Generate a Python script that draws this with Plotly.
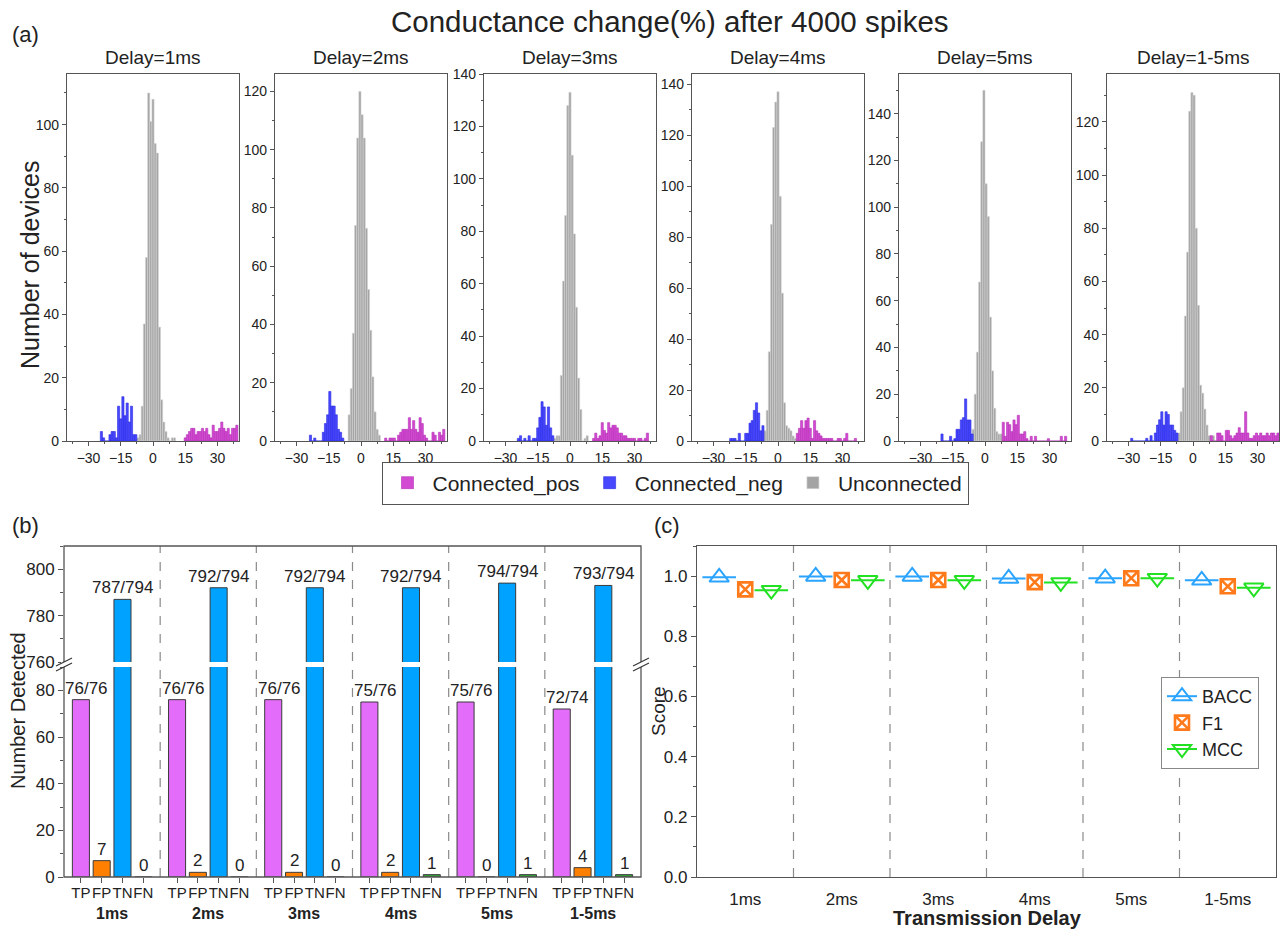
import plotly.graph_objects as go

W, H = 1282, 933
FONT = "Arial, Liberation Sans, Helvetica, sans-serif"
INK = "#222222"
AXIS = "#555555"

PANEL_TITLES = ["Delay=1ms", "Delay=2ms", "Delay=3ms", "Delay=4ms", "Delay=5ms", "Delay=1-5ms"]
GROUPS = ["1ms", "2ms", "3ms", "4ms", "5ms", "1-5ms"]

# (a) device counts per 1 %-wide bin of conductance change; *_START = centre of first bin
POS_1_START = 15
POS_1 = [1, 2, 3, 4, 4, 2, 3, 3, 4, 3, 4, 2, 1, 5, 3, 3, 4, 6, 4, 3, 4, 2, 4, 4, 5]
NEG_1_START = -24
NEG_1 = [3, 1, 0, 0, 2, 3, 3, 1, 11, 7, 14, 8, 12, 6, 11, 2, 2]
UNC_1_START = -7
UNC_1 = [1, 2, 11, 37, 58, 110, 101, 108, 94, 91, 36, 13, 6, 3, 1, 0, 1, 1]

POS_2_START = 11.5
POS_2 = [1, 0, 1, 1, 1, 0, 2, 3, 4, 4, 4, 8, 4, 7, 4, 3, 8, 6, 2, 1, 0, 0, 3, 2, 0, 3, 2, 4]
NEG_2_START = -23.5
NEG_2 = [2, 0, 1, 0, 0, 0, 3, 6, 9, 17, 12, 12, 9, 4, 3, 1]
UNC_2_START = -5.5
UNC_2 = [9, 18, 37, 74, 104, 120, 112, 104, 73, 52, 38, 22, 10, 4, 2]

POS_3_START = 11
POS_3 = [1, 3, 1, 2, 7, 4, 3, 7, 5, 6, 6, 5, 3, 3, 2, 2, 1, 1, 1, 1, 0, 1, 1, 0, 1, 3]
NEG_3_START = -24
NEG_3 = [1, 2, 0, 1, 0, 2, 0, 1, 1, 5, 9, 15, 13, 6, 13, 5, 2]
UNC_3_START = -7
UNC_3 = [1, 2, 2, 25, 61, 86, 128, 133, 109, 79, 51, 24, 12, 0, 1, 2]

POS_4_START = 9
POS_4 = [3, 5, 8, 5, 8, 9, 5, 1, 8, 4, 3, 2, 1, 1, 1, 1, 1, 0, 0, 1, 1, 0, 1, 3, 0, 0, 0, 1]
NEG_4_START = -22
NEG_4 = [1, 1, 1, 0, 3, 0, 0, 3, 3, 7, 8, 12, 15, 11, 4, 6]
UNC_4_START = -6
UNC_4 = [4, 12, 35, 85, 123, 133, 137, 96, 58, 15, 6, 5, 4, 2, 1]

POS_5_START = 8.5
POS_5 = [8, 2, 8, 7, 4, 9, 7, 11, 3, 3, 4, 1, 0, 2, 0, 2, 0, 0, 0, 0, 0, 1, 0, 0, 0, 0, 0, 2, 0, 2]
NEG_5_START = -20
NEG_5 = [3, 0, 0, 0, 2, 0, 1, 5, 5, 9, 10, 18, 9, 9, 3]
UNC_5_START = -5.5
UNC_5 = [5, 20, 38, 68, 128, 150, 110, 96, 53, 30, 14, 4, 3, 3]

POS_6_START = 8.5
POS_6 = [2, 0, 0, 3, 3, 2, 0, 4, 4, 2, 1, 2, 3, 5, 3, 3, 11, 3, 1, 1, 2, 3, 2, 3, 2, 2, 3, 2, 3, 3, 2, 3]
NEG_6_START = -28.5
NEG_6 = [1, 0, 0, 0, 0, 0, 0, 1, 0, 2, 0, 3, 6, 8, 11, 6, 11, 10, 6, 6, 4, 3]
UNC_6_START = -6.5
UNC_6 = [3, 11, 20, 47, 71, 124, 131, 130, 80, 51, 21, 18, 12, 6, 2, 0, 2]

# (b) detection counts per delay setting
TP = [76, 76, 76, 75, 75, 72]
TP_TOTAL = [76, 76, 76, 76, 76, 74]
FP = [7, 2, 2, 2, 0, 4]
TN = [787, 792, 792, 792, 794, 793]
TN_TOTAL = [794, 794, 794, 794, 794, 794]
FN = [0, 0, 0, 1, 1, 1]
BAR_NAMES = ["TP", "FP", "TN", "FN"]

# (c) classification scores per delay setting
BACC = [0.996, 0.999, 0.999, 0.992, 0.993, 0.986]
F1 = [0.956, 0.987, 0.987, 0.980, 0.993, 0.966]
MCC = [0.953, 0.986, 0.986, 0.979, 0.993, 0.961]


def xdom(a, b):
    return [a / W, b / W]


def ydom(top, bot):
    return [1 - bot / H, 1 - top / H]


def centres(start, counts):
    return [start + i for i in range(len(counts))]


def label(x, y, text, size, **kw):
    a = dict(x=x / W, y=1 - y / H, xref="paper", yref="paper", text=text, showarrow=False,
             xanchor="center", yanchor="middle", font=dict(size=size, color=INK, family=FONT))
    a.update(kw)
    return a


fig = go.Figure()

# ---------------- (a) histograms ----------------
HIST = [
    (POS_1_START, POS_1, NEG_1_START, NEG_1, UNC_1_START, UNC_1),
    (POS_2_START, POS_2, NEG_2_START, NEG_2, UNC_2_START, UNC_2),
    (POS_3_START, POS_3, NEG_3_START, NEG_3, UNC_3_START, UNC_3),
    (POS_4_START, POS_4, NEG_4_START, NEG_4, UNC_4_START, UNC_4),
    (POS_5_START, POS_5, NEG_5_START, NEG_5, UNC_5_START, UNC_5),
    (POS_6_START, POS_6, NEG_6_START, NEG_6, UNC_6_START, UNC_6),
]
HIST_LEFT = [67, 275, 484, 692, 899, 1107]
HIST_W = 172
HIST_TOP, HIST_BOT = 74, 441
HIST_YMAX = [116, 126, 140, 144, 157, 138]

STYLE = {
    "Unconnected": ("#A4A4A4", "#D4D4D4", 3),
    "Connected_neg": ("#4848FF", "#2A2AE0", 2),
    "Connected_pos": ("#D24AD2", "#B52FB5", 1),
}

for i, (ps, pv, ns, nv, us, uv) in enumerate(HIST):
    sx = "" if i == 0 else str(i + 1)
    for name, start, vals in (("Unconnected", us, uv), ("Connected_neg", ns, nv), ("Connected_pos", ps, pv)):
        fill, edge, rank = STYLE[name]
        fig.add_trace(go.Bar(
            x=centres(start, vals), y=vals, width=1.0, name=name,
            marker=dict(color=fill, line=dict(color=edge, width=0.6)),
            xaxis="x" + sx, yaxis="y" + sx,
            showlegend=(i == 0), legend="legend", legendrank=rank,
            hoverinfo="skip",
        ))
    common = dict(showline=True, mirror=True, linecolor=AXIS, linewidth=1.3, automargin=False,
                  ticks="outside", ticklen=4, tickcolor=AXIS,
                  tickfont=dict(size=14, color=INK, family=FONT), showgrid=False, zeroline=False)
    fig.update_layout({
        "xaxis" + sx: dict(common, domain=xdom(HIST_LEFT[i], HIST_LEFT[i] + HIST_W), anchor="y" + sx,
                           range=[-40, 40], tickvals=[-30, -15, 0, 15, 30],
                           minor=dict(tickvals=[-37.5, -22.5, -7.5, 7.5, 22.5, 37.5], ticks="outside", ticklen=2, tickcolor=AXIS)),
        "yaxis" + sx: dict(common, domain=ydom(HIST_TOP, HIST_BOT), anchor="x" + sx,
                           range=[0, HIST_YMAX[i]], dtick=20, tick0=0,
                           minor=dict(dtick=10, ticks="outside", ticklen=2, tickcolor=AXIS)),
    })

# ---------------- (b) broken-axis bar chart ----------------
G = 4.625
B_LEFT, B_RIGHT, B_TOP, B_BOT = 64, 641, 546, 877
B_SPLIT_HI, B_SPLIT_LO = 662, 667
BAR_STYLE = [("#E46CFA", TP), ("#FF8000", FP), ("#00A2FF", TN), ("#33AA33", FN)]


def bar_x(g, k):
    return g * G + G / 2 + (k - 1.5)


for k, (clr, vals) in enumerate(BAR_STYLE):
    xs = [bar_x(g, k) for g in range(len(vals))]
    fig.add_trace(go.Bar(x=xs, y=vals, width=0.82, xaxis="x7", yaxis="y7",
                         marker=dict(color=clr, line=dict(color="#3A3A3A", width=1)),
                         showlegend=False, hoverinfo="skip"))
    if BAR_NAMES[k] == "TN":
        fig.add_trace(go.Bar(x=xs, y=vals, width=0.82, xaxis="x7", yaxis="y8",
                             marker=dict(color=clr, line=dict(color="#3A3A3A", width=1)),
                             showlegend=False, hoverinfo="skip"))

tickvals_b, ticktext_b = [], []
for g in range(len(GROUPS)):
    for k, nm in enumerate(BAR_NAMES):
        tickvals_b.append(bar_x(g, k))
        ticktext_b.append(nm)

axb = dict(showgrid=False, zeroline=False, showline=False, automargin=False,
           ticks="outside", ticklen=5, tickcolor=AXIS,
           tickfont=dict(size=17, color=INK, family=FONT))
fig.update_layout(
    xaxis7=dict(axb, domain=xdom(B_LEFT, B_RIGHT), anchor="y7", range=[0, 6 * G], tickangle=0,
                ticklabelstandoff=-3,
                tickvals=tickvals_b, ticktext=ticktext_b, tickfont=dict(size=15, color=INK, family=FONT)),
    yaxis7=dict(axb, domain=ydom(B_SPLIT_LO, B_BOT), anchor="x7", range=[0, 90], dtick=20, tick0=0,
                minor=dict(dtick=10, ticks="outside", ticklen=3, tickcolor=AXIS)),
    yaxis8=dict(axb, domain=ydom(B_TOP, B_SPLIT_HI), anchor="x7", range=[760, 810], dtick=20, tick0=760,
                minor=dict(dtick=10, ticks="outside", ticklen=3, tickcolor=AXIS)),
)

ann = []
lab_font = dict(size=17, color=INK, family=FONT)
for g in range(len(GROUPS)):
    ann.append(dict(x=bar_x(g, 0), y=TP[g], xref="x7", yref="y7", text=f"{TP[g]}/{TP_TOTAL[g]}",
                    showarrow=False, xanchor="center", yanchor="bottom", xshift=6, font=lab_font))
    ann.append(dict(x=bar_x(g, 1), y=FP[g], xref="x7", yref="y7", text=str(FP[g]),
                    showarrow=False, xanchor="center", yanchor="bottom", font=lab_font))
    ann.append(dict(x=bar_x(g, 2), y=TN[g], xref="x7", yref="y8", text=f"{TN[g]}/{TN_TOTAL[g]}",
                    showarrow=False, xanchor="center", yanchor="bottom", font=lab_font))
    ann.append(dict(x=bar_x(g, 3), y=FN[g], xref="x7", yref="y7", text=str(FN[g]),
                    showarrow=False, xanchor="center", yanchor="bottom", font=lab_font))
    ann.append(dict(x=g * G + G / 2, y=1 - 913 / H, xref="x7", yref="paper", text=f"<b>{GROUPS[g]}</b>",
                    showarrow=False, xanchor="center", yanchor="middle",
                    font=dict(size=16, color=INK, family=FONT)))

shapes = []
for g in range(1, len(GROUPS)):
    shapes.append(dict(type="line", xref="x7", yref="paper", x0=g * G, x1=g * G,
                       y0=1 - B_BOT / H, y1=1 - B_TOP / H, line=dict(color="#8A8A8A", width=1.2, dash="dash")))
shapes.append(dict(type="rect", xref="paper", yref="paper", x0=B_LEFT / W, x1=B_RIGHT / W,
                   y0=1 - B_BOT / H, y1=1 - B_TOP / H, line=dict(color=AXIS, width=1.3)))
for xb in (B_LEFT, B_RIGHT):
    shapes.append(dict(type="rect", xref="paper", yref="paper", x0=(xb - 3) / W, x1=(xb + 3) / W,
                       y0=1 - B_SPLIT_LO / H, y1=1 - B_SPLIT_HI / H, line=dict(width=0), fillcolor="white"))
    for yb in (B_SPLIT_HI, B_SPLIT_LO):
        shapes.append(dict(type="line", xref="paper", yref="paper", x0=(xb - 8) / W, x1=(xb + 8) / W,
                           y0=1 - (yb + 4) / H, y1=1 - (yb - 4) / H, line=dict(color="#333333", width=1.2)))

# ---------------- (c) scores ----------------
C_LEFT, C_RIGHT, C_TOP, C_BOT = 697, 1276, 546, 877
OFF = 0.27


def gapped(vals, shift):
    xs, ys = [], []
    for g, v in enumerate(vals):
        xs += [g + shift, None]
        ys += [v, None]
    return xs, ys


for name, vals, shift, sym, clr, size, lw, bar in (
        ("BACC", BACC, -OFF, "triangle-up-open", "#2AA4FF", 17, 2.0, True),
        ("F1", F1, 0.0, "square-x-open", "#FF7A1A", 14, 2.6, False),
        ("MCC", MCC, OFF, "triangle-down-open", "#22E022", 17, 2.0, True)):
    xs, ys = gapped(vals, shift)
    fig.add_trace(go.Scatter(x=xs, y=ys, mode="lines+markers" if bar else "markers", name=name,
                             line=dict(color=clr, width=2), connectgaps=False,
                             marker=dict(symbol=sym, size=size, color=clr, line=dict(color=clr, width=lw)),
                             xaxis="x9", yaxis="y9", legend="legend2", hoverinfo="skip"))
    if bar:
        fig.add_trace(go.Scatter(x=[g + shift for g in range(len(vals))], y=vals, mode="markers",
                                 marker=dict(symbol="line-ew", size=24, line=dict(color=clr, width=2)),
                                 xaxis="x9", yaxis="y9", showlegend=False, hoverinfo="skip"))

fig.update_layout(
    xaxis9=dict(domain=xdom(C_LEFT, C_RIGHT), anchor="y9", range=[-0.5, 5.5], automargin=False,
                tickvals=list(range(len(GROUPS))), ticktext=GROUPS, ticks="", ticklabelstandoff=6,
                showline=True, mirror=True, linecolor=AXIS, linewidth=1.3, showgrid=False, zeroline=False,
                tickfont=dict(size=17, color=INK, family=FONT)),
    yaxis9=dict(domain=ydom(C_TOP, C_BOT), anchor="x9", range=[0, 1.1], dtick=0.2, tick0=0, tickformat=".1f",
                showline=True, mirror=True, linecolor=AXIS, linewidth=1.3, showgrid=False, zeroline=False,
                automargin=False, ticks="outside", ticklen=5, tickcolor=AXIS,
                minor=dict(dtick=0.1, ticks="outside", ticklen=3, tickcolor=AXIS),
                tickfont=dict(size=17, color=INK, family=FONT)),
)
for g in range(1, len(GROUPS)):
    shapes.append(dict(type="line", xref="x9", yref="paper", x0=g - 0.5, x1=g - 0.5,
                       y0=1 - C_BOT / H, y1=1 - C_TOP / H, line=dict(color="#8A8A8A", width=1.2, dash="dash")))

# ---------------- titles and labels ----------------
for i, t in enumerate(PANEL_TITLES):
    ann.append(label(HIST_LEFT[i] + HIST_W / 2, 57, t, 19))
ann += [
    label(670, 22, "Conductance change(%) after 4000 spikes", 29.5),
    label(10, 35, "(a)", 22, xanchor="left"),
    label(10, 525, "(b)", 22, xanchor="left"),
    label(652, 525, "(c)", 22, xanchor="left"),
    label(30, 265, "Number of devices", 25, textangle=-90),
    label(18, 711, "Number Detected", 20, textangle=-90),
    label(658, 711, "Score", 19, textangle=-90),
    label(987, 918, "<b>Transmission Delay</b>", 20),
]

fig.update_layout(
    width=W, height=H, margin=dict(l=0, r=0, t=0, b=0, autoexpand=False),
    paper_bgcolor="white", plot_bgcolor="white", barmode="overlay",
    font=dict(family=FONT, color=INK),
    annotations=ann, shapes=shapes,
    legend=dict(orientation="h", x=675 / W, xanchor="center", y=1 - 483 / H, yanchor="middle",
                bordercolor=AXIS, borderwidth=1, bgcolor="white", font=dict(size=21, color=INK, family=FONT),
                traceorder="normal", itemwidth=40),
    legend2=dict(x=1161 / W, xanchor="left", y=1 - 677 / H, yanchor="top",
                 bordercolor="#888888", borderwidth=1, bgcolor="white",
                 font=dict(size=18, color=INK, family=FONT), tracegroupgap=2),
)

fig.write_html("out.html")
